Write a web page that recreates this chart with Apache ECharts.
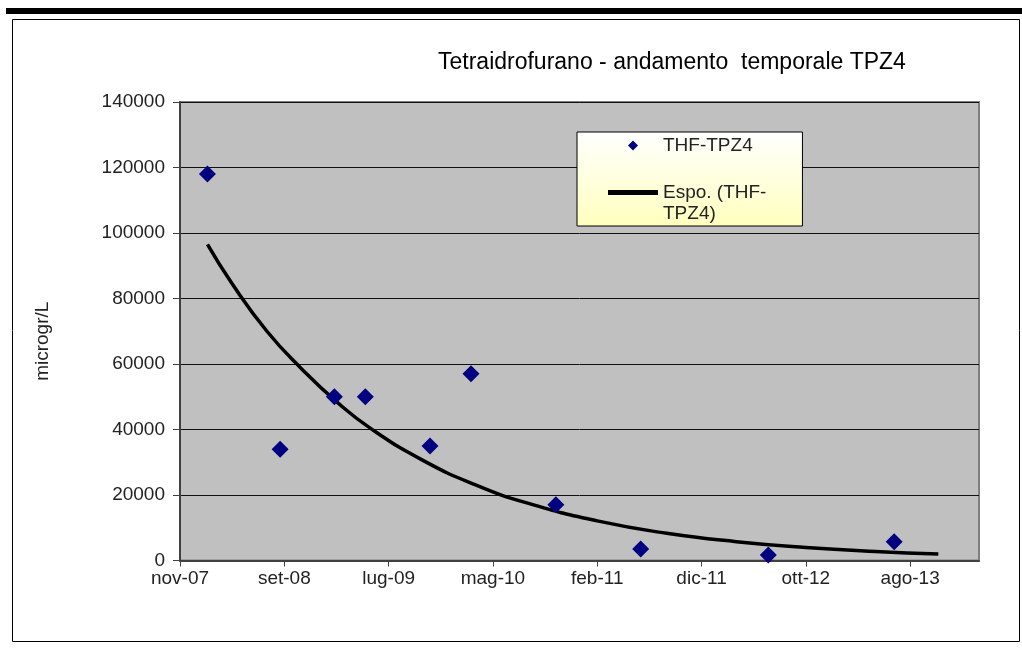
<!DOCTYPE html>
<html>
<head>
<meta charset="utf-8">
<script src="https://cdn.jsdelivr.net/npm/echarts@6/dist/echarts.min.js"></script>
<style>html,body{margin:0;padding:0;background:#fff}#c{width:1022px;height:648px}</style>
</head>
<body>
<div id="c"></div>
<script>
// x values are days counted from the axis origin (nov-07); ticks every 300 days
const xTickLabels = ['nov-07', 'set-08', 'lug-09', 'mag-10', 'feb-11', 'dic-11', 'ott-12', 'ago-13'];
const sampleDays = [79, 288, 444, 533, 719, 837, 1081, 1325, 1692, 2054];
const sampleValues = [118000, 34000, 50000, 50000, 35000, 57000, 17000, 3500, 1700, 5700];
// exponential trend line
const trendDays = [79, 150, 250, 350, 450, 550, 700, 850, 1000, 1200, 1400, 1600, 1800, 2000, 2181];
const trendValues = [96500, 84500, 70000, 58500, 48500, 40200, 30500, 23100, 17500, 12100, 8300, 5750, 3980, 2740, 1950];
const seriesName = 'THF-TPZ4';
const trendName = 'Espo. (THF-TPZ4)';

const FONT = "'Liberation Sans', Arial, sans-serif";
const chart = echarts.init(document.getElementById('c'), null, {renderer: 'canvas'});
chart.setOption({
  animation: false,
  backgroundColor: '#ffffff',
  textStyle: {fontFamily: FONT},
  title: {
    text: 'Tetraidrofurano - andamento  temporale TPZ4',
    left: 433, top: 46,
    textStyle: {fontFamily: FONT, fontSize: 23, fontWeight: 'normal', color: '#000'}
  },
  graphic: [
    {type: 'rect', shape: {x: 6, y: 8, width: 1016, height: 6}, style: {fill: '#000'}, silent: true},
    {type: 'rect', shape: {x: 12.5, y: 19.5, width: 1007, height: 622}, style: {fill: 'none', stroke: '#000', lineWidth: 1}, silent: true}
  ],
  legend: {
    orient: 'vertical',
    left: 577, top: 132,
    padding: [3, 36, 2, 31],
    itemGap: 5,
    itemWidth: 50,
    itemHeight: 10,
    backgroundColor: new echarts.graphic.LinearGradient(0, 0, 0, 1, [
      {offset: 0, color: '#ffffff'},
      {offset: 1, color: '#ffffbe'}
    ]),
    borderColor: '#000',
    borderWidth: 1,
    textStyle: {fontFamily: FONT, fontSize: 19, color: '#222', lineHeight: 21},
    formatter: function (n) { return n === trendName ? '\nEspo. (THF-\nTPZ4)' : n; },
    data: [
      {name: seriesName, icon: 'path://M0,-1L1,0L0,1L-1,0Z', itemStyle: {color: '#000080', opacity: 1}},
      {name: trendName, icon: 'path://M0,0H52V5H0Z', itemStyle: {color: '#000'}}
    ]
  },
  grid: {left: 180, right: 43, top: 102, bottom: 87.5, show: true, backgroundColor: '#c0c0c0', borderColor: '#808080', borderWidth: 2},
  xAxis: {
    type: 'value', min: 0, max: 2298, interval: 300,
    axisLine: {show: true, onZero: false, lineStyle: {color: '#404040', width: 2}},
    axisTick: {show: true, inside: false, length: 6, lineStyle: {color: '#404040', width: 1}},
    axisLabel: {
      fontFamily: FONT, fontSize: 19, color: '#222', margin: 9, showMaxLabel: false,
      formatter: function (v) { return (v % 300 === 0) ? (xTickLabels[v / 300] || '') : ''; }
    },
    splitLine: {show: false}
  },
  yAxis: {
    type: 'value', min: 0, max: 140000, interval: 20000,
    name: 'microgr/L', nameLocation: 'middle', nameRotate: 90, nameGap: 128,
    nameTextStyle: {fontFamily: FONT, fontSize: 19, color: '#222', padding: [0, 20, 0, 0]},
    axisLine: {show: true, lineStyle: {color: '#404040', width: 2}},
    axisTick: {show: true, inside: false, length: 7, lineStyle: {color: '#404040', width: 1}},
    axisLabel: {fontFamily: FONT, fontSize: 19, color: '#222', margin: 15, formatter: function (v) { return String(v); }},
    splitLine: {show: true, lineStyle: {color: '#111', width: 1}}
  },
  series: [
    {
      name: seriesName, type: 'scatter', symbol: 'diamond', symbolSize: 17,
      itemStyle: {color: '#000080', opacity: 1}, z: 3,
      data: sampleDays.map((d, i) => [d, sampleValues[i]])
    },
    {
      name: trendName, type: 'line', smooth: true, symbol: 'none', showSymbol: false,
      lineStyle: {color: '#000', width: 3.5}, itemStyle: {color: '#000'}, z: 2,
      data: trendDays.map((d, i) => [d, trendValues[i]])
    }
  ]
});
</script>
</body>
</html>
